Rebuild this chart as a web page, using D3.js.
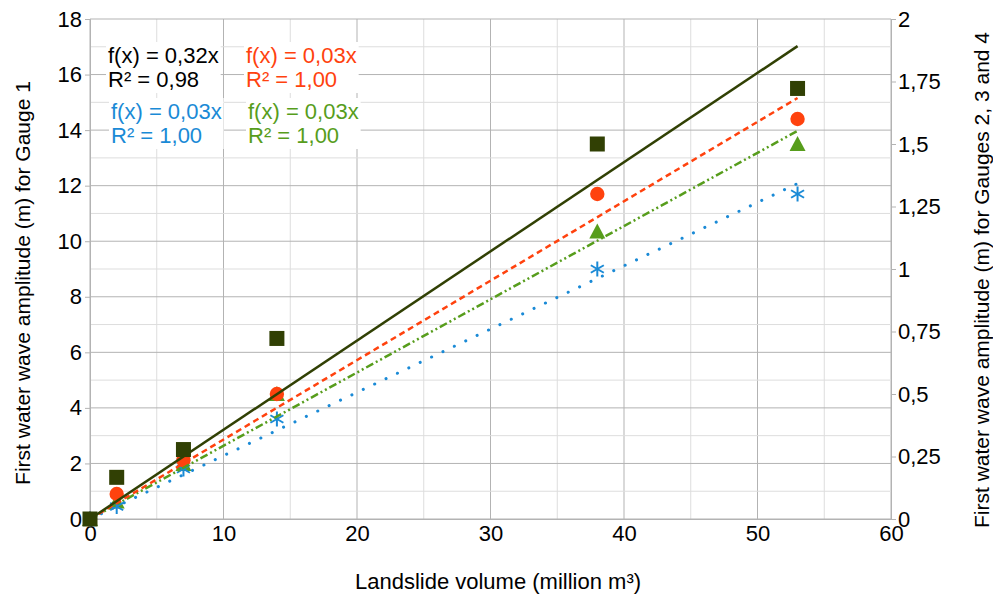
<!DOCTYPE html>
<html><head><meta charset="utf-8">
<script src="https://cdn.jsdelivr.net/npm/d3@7/dist/d3.min.js"></script>
<style>body{margin:0;background:#fff}svg{display:block}text{font-family:"Liberation Sans",Arial,sans-serif}</style>
</head><body><svg id="c" width="993" height="597"></svg>
<script>
const volumes = [0, 2, 7, 14, 38, 53];
const gauge1 = [0, 1.5, 2.5, 6.5, 13.5, 15.5];
const gauge2 = [0, 0.1, 0.235, 0.5, 1.3, 1.6];
const gauge3 = [0, 0.05, 0.2, 0.4, 1.0, 1.3];
const gauge4 = [0, 0.07, 0.22, 0.5, 1.15, 1.5];
const xTicks = [0, 10, 20, 30, 40, 50, 60];
const yLeftTicks = [0, 2, 4, 6, 8, 10, 12, 14, 16, 18];
const yRightTicks = [0, 0.25, 0.5, 0.75, 1, 1.25, 1.5, 1.75, 2];
const eqLabels = [
  ["f(x) = 0,32x", "R² = 0,98"],
  ["f(x) = 0,03x", "R² = 1,00"],
  ["f(x) = 0,03x", "R² = 1,00"],
  ["f(x) = 0,03x", "R² = 1,00"]
];

const FS = "22px";
const svg = d3.select("#c");
const x = d3.scaleLinear().domain([0, 60]).range([90, 891]);
const yL = d3.scaleLinear().domain([0, 18]).range([519, 19]);
const yR = d3.scaleLinear().domain([0, 2]).range([519, 19]);

// grid
const g = svg.append("g");
d3.range(0, 61, 5).forEach(v => {
  g.append("line").attr("x1", x(v)).attr("x2", x(v)).attr("y1", yL(18)).attr("y2", yL(0))
   .attr("stroke", v % 10 === 0 ? "#b3b3b3" : "#dddddd").attr("stroke-width", 1);
});
d3.range(0, 19, 1).forEach(v => {
  g.append("line").attr("x1", x(0)).attr("x2", x(60)).attr("y1", yL(v)).attr("y2", yL(v))
   .attr("stroke", v % 2 === 0 ? "#b3b3b3" : "#dddddd").attr("stroke-width", 1);
});

// axes
const fmt = d => String(d).replace(".", ",");
const axL = svg.append("g").attr("transform", `translate(${x(0)},0)`)
  .call(d3.axisLeft(yL).tickValues(yLeftTicks).tickSize(5).tickPadding(3).tickFormat(fmt));
const axR = svg.append("g").attr("transform", `translate(${x(60)},0)`)
  .call(d3.axisRight(yR).tickValues(yRightTicks).tickSize(5).tickPadding(2).tickFormat(fmt));
const axB = svg.append("g").attr("transform", `translate(0,${yL(0)})`)
  .call(d3.axisBottom(x).tickValues(xTicks).tickSize(0).tickPadding(6).tickFormat(fmt));
[axL, axR, axB].forEach(a => {
  a.selectAll("path").attr("stroke", "#b3b3b3");
  a.selectAll("line").attr("stroke", "#b3b3b3");
  a.selectAll("text").attr("fill", "#000").style("font-size", FS)
   .style("font-family", '"Liberation Sans",Arial,sans-serif');
});

// titles
svg.append("text").attr("x", 498).attr("y", 589).attr("text-anchor", "middle")
  .style("font-size", FS).text("Landslide volume (million m³)");
svg.append("text").attr("transform", "translate(30,283) rotate(-90)").attr("text-anchor", "middle")
  .style("font-size", "21px").text("First water wave amplitude (m) for Gauge 1");
svg.append("text").attr("transform", "translate(989,280) rotate(-90)").attr("text-anchor", "middle")
  .style("font-size", "21px").text("First water wave amplitude (m) for Gauges 2, 3 and 4");

const series = [
  {vals: gauge1, y: yL, color: "#314004", marker: "square", dash: null},
  {vals: gauge2, y: yR, color: "#ff420e", marker: "circle", dash: "6,4"},
  {vals: gauge3, y: yR, color: "#1a8ad6", marker: "star", dash: "0.1,12.5", cap: "round", w: 3},
  {vals: gauge4, y: yR, color: "#579d1c", marker: "triangle", dash: "8,3,2,3,2,3"}
];
// regression through origin
series.forEach(s => {
  const sxy = d3.sum(volumes, (v, i) => v * s.vals[i]);
  const sxx = d3.sum(volumes, v => v * v);
  s.slope = sxy / sxx;
});

function drawMarkers(s) {
  const mg = svg.append("g");
  volumes.forEach((v, i) => {
    const cx = x(v), cy = s.y(s.vals[i]);
    if (s.marker === "square") {
      mg.append("rect").attr("x", cx - 7.5).attr("y", cy - 7.5).attr("width", 15).attr("height", 15).attr("fill", s.color);
    } else if (s.marker === "circle") {
      mg.append("circle").attr("cx", cx).attr("cy", cy).attr("r", 7.2).attr("fill", s.color);
    } else if (s.marker === "triangle") {
      mg.append("path").attr("d", `M${cx},${cy - 8}L${cx + 8},${cy + 7}L${cx - 8},${cy + 7}Z`).attr("fill", s.color);
    } else {
      [90, 30, -30].forEach(a => {
        const r = a * Math.PI / 180, dx = 7.5 * Math.cos(r), dy = 7.5 * Math.sin(r);
        mg.append("line").attr("x1", cx - dx).attr("y1", cy - dy).attr("x2", cx + dx).attr("y2", cy + dy)
          .attr("stroke", s.color).attr("stroke-width", 2);
      });
    }
  });
}
function drawTrend(s) {
  const xmax = d3.max(volumes);
  svg.append("line").attr("x1", x(0)).attr("y1", s.y(0)).attr("x2", x(xmax)).attr("y2", s.y(s.slope * xmax))
    .attr("stroke", s.color).attr("stroke-width", s.w || 2.5)
    .attr("stroke-dasharray", s.dash).attr("stroke-linecap", s.cap || "butt");
}
[series[3], series[2], series[1]].forEach(drawMarkers);
[series[3], series[2], series[1], series[0]].forEach(drawTrend);
drawMarkers(series[0]);

// equation labels
const eqPos = [[108, 63], [246, 63], [111, 119], [248, 119]];
eqLabels.forEach((lbl, i) => {
  const [lx, ly] = eqPos[i];
  const col = i === 0 ? "#000" : series[i].color;
  const grp = svg.append("g");
  const t = grp.append("text").attr("x", lx).attr("y", ly).style("font-size", FS).attr("fill", col);
  t.append("tspan").attr("x", lx).attr("dy", 0).text(lbl[0]);
  t.append("tspan").attr("x", lx).attr("dy", 24).text(lbl[1]);
  const bb = t.node().getBBox();
  grp.insert("rect", "text").attr("x", bb.x - 2).attr("y", bb.y - 1).attr("width", bb.width + 4).attr("height", bb.height + 2).attr("fill", "#fff");
});
</script></body></html>
